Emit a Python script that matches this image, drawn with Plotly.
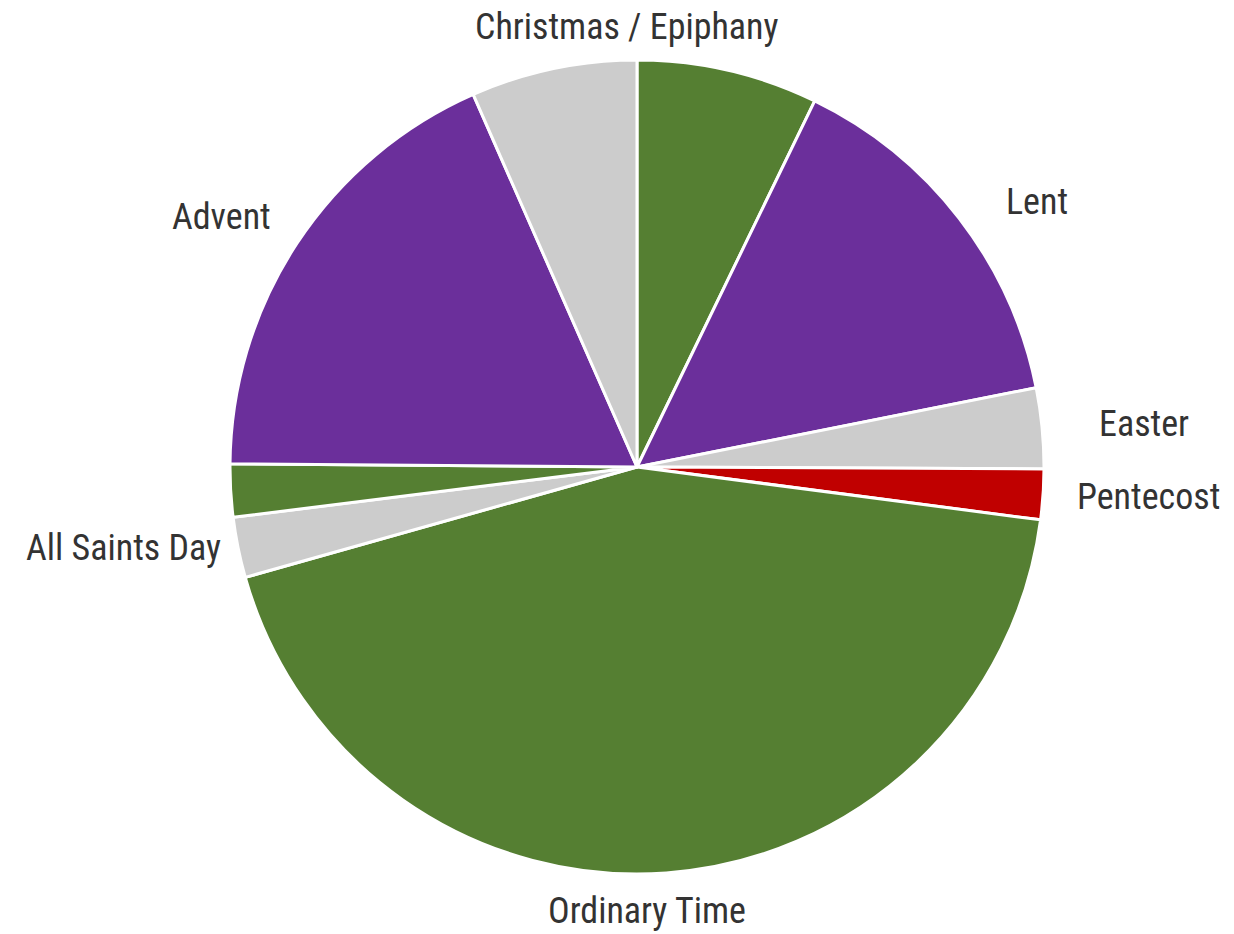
import math
import plotly.graph_objects as go

# Slices, clockwise from 12 o'clock
slice_names = [
    "Epiphany (green)", "Lent", "Easter", "Pentecost", "Ordinary Time",
    "All Saints Day", "Ordinary Time (Nov)", "Advent", "Christmas / Epiphany",
]
slice_text = [
    "", "Lent", "Easter", "Pentecost", "Ordinary Time",
    "All Saints Day", "", "Advent", "Christmas / Epiphany",
]
slice_values = [7.2, 14.7, 3.2, 2.0, 43.6, 2.4, 2.1, 18.3, 6.6]
slice_colors = [
    "#557F32", "#6B2F9B", "#CCCCCC", "#C00000", "#557F32",
    "#CCCCCC", "#557F32", "#6B2F9B", "#CCCCCC",
]

W, H = 1234, 934
# pie geometry in figure pixels (page has an 8px body margin)
cx, cy, r = 629, 459, 407
label_r = 445
FONT = "Liberation Sans Narrow, Arial Narrow, Roboto Condensed, sans-serif"
# small pixel nudges (dx, dy) for label placement around the wheel
label_nudge = {
    "Lent": (15, 7), "Easter": (17, 0), "Pentecost": (-6, 0),
    "Ordinary Time": (-22, 0), "All Saints Day": (22, -7),
    "Advent": (8, -5), "Christmas / Epiphany": (-10, 5),
}

fig = go.Figure(go.Pie(
    labels=slice_names,
    values=slice_values,
    textinfo="none",
    sort=False,
    direction="clockwise",
    rotation=0,
    marker=dict(colors=slice_colors, line=dict(color="white", width=3)),
    domain=dict(x=[(cx - r) / W, (cx + r) / W], y=[1 - (cy + r) / H, 1 - (cy - r) / H]),
    hoverinfo="label+percent",
))

# Outside labels placed from the slice angles
total = sum(slice_values)
annotations = []
cum = 0.0
for name, txt, v in zip(slice_names, slice_text, slice_values):
    start = cum / total * 360
    cum += v
    end = cum / total * 360
    if not txt:
        continue
    ang = (start + end) / 2
    if txt == "Christmas / Epiphany":
        ang = end  # season label centred on the top of the wheel
    a = math.radians(ang)
    ndx, ndy = label_nudge.get(txt, (0, 0))
    px = cx + label_r * math.sin(a) + ndx
    py = cy - label_r * math.cos(a) + ndy
    sx = math.sin(a)
    if abs(sx) < 0.15:
        xanchor = "center"
    elif sx > 0:
        xanchor = "left"
    else:
        xanchor = "right"
    annotations.append(dict(
        x=px / W, y=1 - py / H, xref="paper", yref="paper",
        text=txt, showarrow=False, xanchor=xanchor, yanchor="middle",
        font=dict(family=FONT, size=36, color="#333333"),
    ))

fig.update_layout(
    width=W, height=H,
    margin=dict(l=0, r=0, t=0, b=0),
    showlegend=False,
    paper_bgcolor="white",
    annotations=annotations,
)
fig.write_html("out.html")
